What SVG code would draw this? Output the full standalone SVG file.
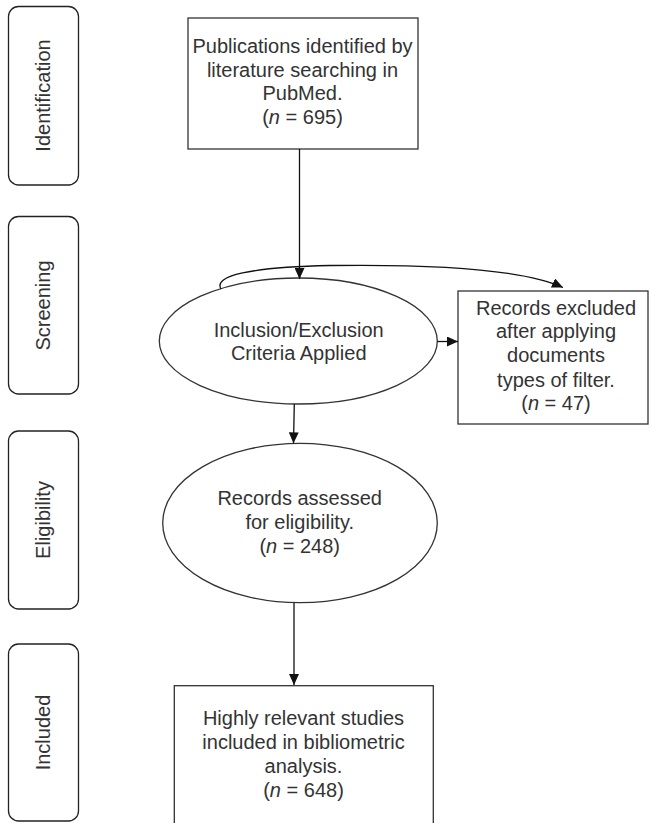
<svg xmlns="http://www.w3.org/2000/svg" width="650" height="823" viewBox="0 0 650 823">
<defs>
<marker id="ah" markerUnits="userSpaceOnUse" markerWidth="12" markerHeight="10" refX="11" refY="5" orient="auto">
<path d="M0,0 L11,5 L0,10 Z" fill="#111"/>
</marker>
<style>
.pill{fill:#fff;stroke:#222;stroke-width:1.3}
.box{fill:#fff;stroke:#333;stroke-width:1.3}
.lbl{font-family:"Liberation Sans",Arial,sans-serif;font-size:20px;fill:#333;text-anchor:middle}
.con{fill:none;stroke:#111;stroke-width:1.3}
</style>
</defs>
<rect width="650" height="823" fill="#fff"/>
<g id="stage-identification">
<rect class="pill" x="8.5" y="6.5" width="70" height="178.5" rx="10"/>
<text class="lbl" transform="translate(50,95.5) rotate(-90)">Identification</text>
</g>
<g id="stage-screening">
<rect class="pill" x="8.5" y="216.5" width="70" height="177.5" rx="10"/>
<text class="lbl" transform="translate(50,305.5) rotate(-90)">Screening</text>
</g>
<g id="stage-eligibility">
<rect class="pill" x="8.5" y="431" width="70" height="178" rx="10"/>
<text class="lbl" transform="translate(50,520) rotate(-90)">Eligibility</text>
</g>
<g id="stage-included">
<rect class="pill" x="8.5" y="644" width="70" height="177" rx="10"/>
<text class="lbl" transform="translate(50,732.5) rotate(-90)">Included</text>
</g>
<g id="publications">
<rect class="box" x="188" y="18" width="230" height="131"/>
<text class="lbl" x="302.5" y="53">Publications identified by</text>
<text class="lbl" x="302.5" y="76.5">literature searching in</text>
<text class="lbl" x="302.5" y="100">PubMed.</text>
<text class="lbl" x="302.5" y="123.5">(<tspan font-style="italic">n</tspan> = 695)</text>
</g>
<g id="criteria">
<ellipse class="box" cx="298.3" cy="341" rx="139" ry="63"/>
<text class="lbl" x="298.7" y="336.5">Inclusion/Exclusion</text>
<text class="lbl" x="298.7" y="360">Criteria Applied</text>
</g>
<g id="excluded">
<rect class="box" x="458" y="291" width="190" height="133"/>
<text class="lbl" x="556" y="314.5">Records excluded</text>
<text class="lbl" x="556" y="338">after applying</text>
<text class="lbl" x="556" y="362">documents</text>
<text class="lbl" x="556" y="386.5">types of filter.</text>
<text class="lbl" x="556" y="410">(<tspan font-style="italic">n</tspan> = 47)</text>
</g>
<g id="assessed">
<ellipse class="box" cx="300" cy="523" rx="137.3" ry="79.7"/>
<text class="lbl" x="299.7" y="505">Records assessed</text>
<text class="lbl" x="299.7" y="529">for eligibility.</text>
<text class="lbl" x="299.7" y="552.5">(<tspan font-style="italic">n</tspan> = 248)</text>
</g>
<g id="included-studies">
<rect class="box" x="174.3" y="685.7" width="259" height="150"/>
<text class="lbl" x="303.5" y="725">Highly relevant studies</text>
<text class="lbl" x="303.5" y="749">included in bibliometric</text>
<text class="lbl" x="303.5" y="773">analysis.</text>
<text class="lbl" x="303.5" y="797">(<tspan font-style="italic">n</tspan> = 648)</text>
</g>
<g id="connectors">
<line class="con" x1="299.5" y1="149" x2="299.5" y2="279" marker-end="url(#ah)"/>
<path class="con" d="M221,289 C213,276 250,267 330,265.5 C440,264 525,270 563,287.5" marker-end="url(#ah)"/>
<line class="con" x1="437.3" y1="341.5" x2="458" y2="341.5" marker-end="url(#ah)"/>
<line class="con" x1="294.3" y1="404" x2="293.5" y2="443.3" marker-end="url(#ah)"/>
<line class="con" x1="294" y1="603" x2="294" y2="685" marker-end="url(#ah)"/>
</g>
</svg>
